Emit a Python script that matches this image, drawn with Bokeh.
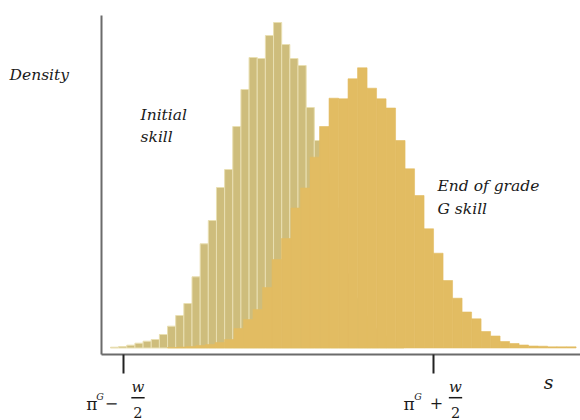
import numpy as np
from bokeh.plotting import figure
from bokeh.models import Range1d, FixedTicker, Label
from bokeh.embed import file_html
from bokeh.resources import INLINE

# ---- data (skill s in units where pi^G = 0 and w = 2; density in arbitrary units) ----
INITIAL_START = -1.084
INITIAL_WIDTH = 0.0526
INITIAL_DENSITY = [0.008, 0.015, 0.028, 0.048, 0.068, 0.085, 0.135, 0.218, 0.325, 0.445,
                   0.712, 1.042, 1.275, 1.605, 1.785, 2.215, 2.585, 2.905, 2.895, 3.125,
                   3.255, 3.035, 2.895, 2.825, 2.405, 2.075, 1.75, 1.40, 1.05, 0.75,
                   0.50, 0.32, 0.20, 0.12, 0.06, 0.03]

END_START = -0.716
END_WIDTH = 0.0613
END_DENSITY = [0.005, 0.01, 0.015, 0.025, 0.035, 0.055, 0.085, 0.195, 0.285, 0.385,
               0.605, 0.885, 1.095, 1.40, 1.60, 1.908, 2.215, 2.498, 2.492, 2.692,
               2.802, 2.598, 2.492, 2.40, 2.075, 1.792, 1.525, 1.192, 0.948, 0.675,
               0.498, 0.36, 0.292, 0.165, 0.12, 0.065, 0.045, 0.03, 0.02, 0.018,
               0.012, 0.012, 0.012]

TICKS = [-1.0, 1.0]
TICK_SIGNS = ["\u2212", "+"]

S_MIN, S_MAX = -1.1419, 1.9484      # extent of the s axis
D_MIN, D_MAX = -0.065, 3.325        # extent of the density axis

# ---- figure ----
p = figure(width=580, height=420, output_backend="svg", toolbar_location=None,
           x_range=Range1d(-1.7935, 1.9484), y_range=Range1d(-0.725, 3.475),
           min_border=0)
p.outline_line_color = None
p.grid.visible = False
p.background_fill_color = "white"
p.border_fill_color = "white"

ie = INITIAL_START + INITIAL_WIDTH * np.arange(len(INITIAL_DENSITY) + 1)
ee = END_START + END_WIDTH * np.arange(len(END_DENSITY) + 1)

p.quad(left=ie[:-1], right=ie[1:], bottom=0, top=INITIAL_DENSITY,
       fill_color="#cebd7c", line_color="#e9dfb2", line_width=1)
p.quad(left=ee[:-1], right=ee[1:], bottom=0, top=END_DENSITY,
       fill_color="#e2bc62", line_color="#e2bc62", line_width=0.6)

# axes, placed inside the frame
xa = p.xaxis[0]
xa.fixed_location = D_MIN
xa.bounds = (S_MIN, S_MAX)
xa.ticker = FixedTicker(ticks=TICKS)
xa.major_label_overrides = {t: "" for t in TICKS}
xa.axis_line_color = "#6b6b6b"
xa.axis_line_width = 2
xa.major_tick_line_color = "#222222"
xa.major_tick_line_width = 2
xa.major_tick_out = 19
xa.major_tick_in = 0
xa.minor_tick_line_color = None

ya = p.yaxis[0]
ya.fixed_location = S_MIN
ya.bounds = (D_MIN, D_MAX)
ya.ticker = FixedTicker(ticks=[])
ya.axis_line_color = "#6b6b6b"
ya.axis_line_width = 2
ya.major_tick_line_color = None
ya.minor_tick_line_color = None

SERIF = "DejaVu Serif"
INK = "#1a1a1a"

def lab(x, y, text, size="15.5px", style="italic", align="left"):
    p.add_layout(Label(x=x, y=y, text=text, text_font=SERIF, text_font_style=style,
                       text_font_size=size, text_color=INK,
                       text_align=align, text_baseline="middle"))

lab(-1.735, 2.735, "Density")
lab(-0.890, 2.335, "Initial")
lab(-0.890, 2.115, "skill")
lab(1.026, 1.625, "End of grade")
lab(1.026, 1.395, "G skill")
lab(1.742, -0.335, "s", size="19px", align="center")

# tick labels: pi^G -/+ w/2  (offsets from each tick, in s units)
OFFS = {"\u2212": (-0.2045, -0.152, -0.077, 0.0935),
        "+": (-0.157, -0.100, 0.019, 0.142)}
bar_x0, bar_x1, bar_y = [], [], []
for t, sign in zip(TICKS, TICK_SIGNS):
    o_pi, o_g, o_sign, o_frac = OFFS[sign]
    lab(t + o_pi, -0.555, "\u03c0", size="17px", style="normal", align="center")
    lab(t + o_g, -0.48, "G", size="9.5px", align="center")
    lab(t + o_sign, -0.545, sign, size="16px", style="normal", align="center")
    lab(t + o_frac, -0.39, "w", size="15px", align="center")
    lab(t + o_frac, -0.645, "2", size="14.5px", style="normal", align="center")
    bar_x0.append(t + o_frac - 0.043)
    bar_x1.append(t + o_frac + 0.043)
    bar_y.append(-0.497)

p.segment(x0=bar_x0, y0=bar_y, x1=bar_x1, y1=bar_y, line_color=INK, line_width=1.5)

open("out.html", "w").write(file_html(p, INLINE))
